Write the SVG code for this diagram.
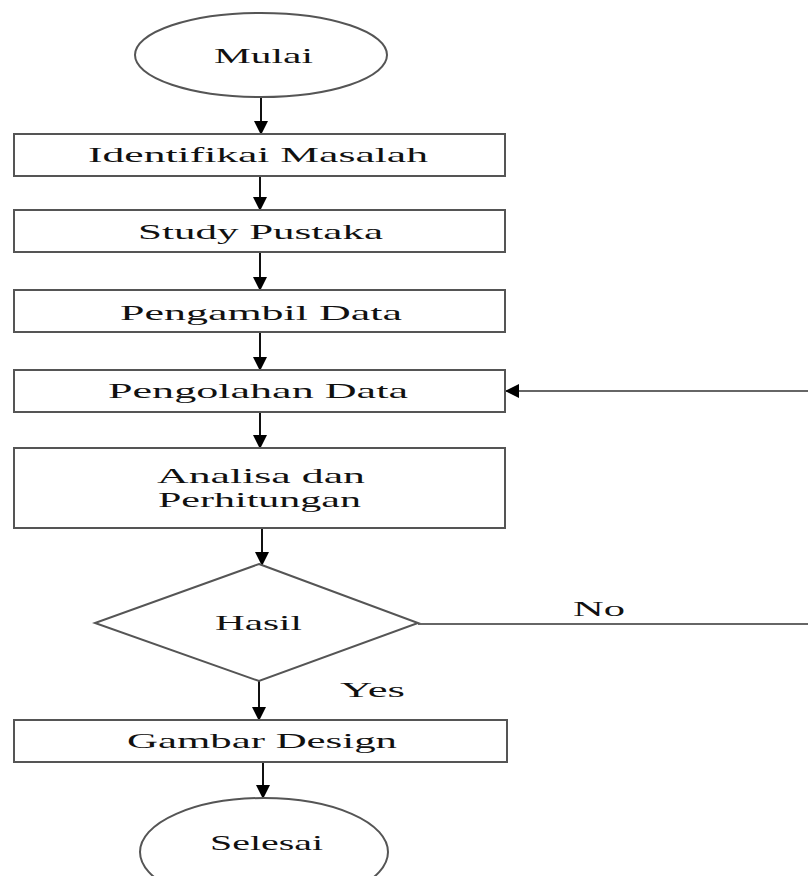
<svg xmlns="http://www.w3.org/2000/svg" width="808" height="876" viewBox="0 0 808 876">
<style>
.shape{fill:#fff;stroke:#555;stroke-width:2}
.conn{stroke:#111;stroke-width:2;fill:none}
.flow{stroke:#666;stroke-width:2;fill:none}
.t{font-family:"Liberation Serif","Times New Roman",serif;font-size:22px;fill:#111}
</style>
<defs>
<marker id="ah" markerUnits="userSpaceOnUse" markerWidth="14" markerHeight="14" viewBox="0 0 14 14" refX="13" refY="7" orient="auto">
<path d="M0,0 L14,7 L0,14 z" fill="#000"/>
</marker>
</defs>
<rect width="808" height="876" fill="#fff"/>
<g id="connectors">
<line class="conn" x1="261" y1="97" x2="261" y2="134" marker-end="url(#ah)"/>
<line class="conn" x1="260" y1="176" x2="260" y2="210" marker-end="url(#ah)"/>
<line class="conn" x1="260" y1="252" x2="260" y2="290" marker-end="url(#ah)"/>
<line class="conn" x1="260" y1="332" x2="260" y2="370" marker-end="url(#ah)"/>
<line class="conn" x1="260" y1="412" x2="260" y2="448" marker-end="url(#ah)"/>
<line class="conn" x1="262" y1="528" x2="262" y2="565" marker-end="url(#ah)"/>
<line class="conn" x1="259" y1="681" x2="259" y2="720" marker-end="url(#ah)"/>
<line class="conn" x1="263" y1="762" x2="263" y2="798" marker-end="url(#ah)"/>
<line class="flow" x1="418" y1="624" x2="808" y2="624"/>
<line class="flow" x1="808" y1="391" x2="506" y2="391" marker-end="url(#ah)"/>
<text class="t" x="573" y="616" textLength="52" lengthAdjust="spacingAndGlyphs">No</text>
<text class="t" x="340" y="697" textLength="65" lengthAdjust="spacingAndGlyphs">Yes</text>
</g>
<g id="mulai">
<ellipse class="shape" cx="261" cy="55" rx="126" ry="42"/>
<text class="t" x="214" y="63" textLength="99" lengthAdjust="spacingAndGlyphs">Mulai</text>
</g>
<g id="identifikasi">
<rect class="shape" x="14" y="134" width="491" height="42"/>
<text class="t" x="88" y="162" textLength="340" lengthAdjust="spacingAndGlyphs">Identifikai Masalah</text>
</g>
<g id="study">
<rect class="shape" x="14" y="210" width="491" height="42"/>
<text class="t" x="138" y="239" textLength="245" lengthAdjust="spacingAndGlyphs">Study Pustaka</text>
</g>
<g id="pengambil">
<rect class="shape" x="14" y="290" width="491" height="42"/>
<text class="t" x="120" y="320" textLength="282" lengthAdjust="spacingAndGlyphs">Pengambil Data</text>
</g>
<g id="pengolahan">
<rect class="shape" x="14" y="370" width="491" height="42"/>
<text class="t" x="108" y="398" textLength="300" lengthAdjust="spacingAndGlyphs">Pengolahan Data</text>
</g>
<g id="analisa">
<rect class="shape" x="14" y="448" width="491" height="80"/>
<text class="t" x="157" y="483" textLength="208" lengthAdjust="spacingAndGlyphs">Analisa dan</text>
<text class="t" x="158" y="507" textLength="203" lengthAdjust="spacingAndGlyphs">Perhitungan</text>
</g>
<g id="hasil">
<polygon class="shape" points="259,564 418,623 259,681 95,623"/>
<text class="t" x="215" y="630" textLength="87" lengthAdjust="spacingAndGlyphs">Hasil</text>
</g>
<g id="gambar">
<rect class="shape" x="14" y="720" width="493" height="42"/>
<text class="t" x="127" y="748" textLength="270" lengthAdjust="spacingAndGlyphs">Gambar Design</text>
</g>
<g id="selesai">
<ellipse class="shape" cx="264" cy="852" rx="124" ry="54"/>
<text class="t" x="210" y="850" textLength="113" lengthAdjust="spacingAndGlyphs">Selesai</text>
</g>
</svg>
